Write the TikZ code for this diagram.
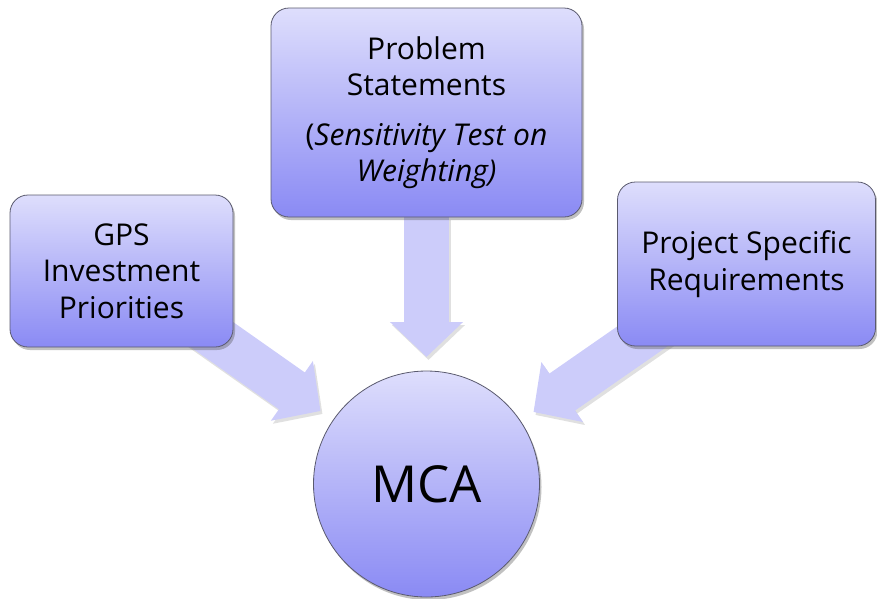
\documentclass[tikz,border=0pt]{standalone}
\usepackage{fontspec}
\setmainfont{Open Sans}
\usetikzlibrary{arrows.meta,shadows,backgrounds}
\definecolor{boxtop}{RGB}{222,222,252}
\definecolor{boxbot}{RGB}{138,138,244}
\definecolor{boxline}{RGB}{90,90,110}
\definecolor{arrowfill}{RGB}{204,204,250}
\tikzset{
  stepbox/.style={rectangle, rounded corners=18pt, draw=boxline, line width=0.8pt,
    top color=boxtop, bottom color=boxbot, align=center, inner sep=0pt,
    font=\fontsize{30}{36.5}\selectfont,
    drop shadow={shadow xshift=2pt, shadow yshift=-3pt, opacity=0.35, fill=black!70}},
  hubnode/.style={circle, draw=boxline, line width=0.8pt, minimum size=226pt,
    top color=boxtop, bottom color=boxbot, inner sep=0pt,
    font=\fontsize{51}{60}\selectfont,
    drop shadow={shadow xshift=2pt, shadow yshift=-3pt, opacity=0.35, fill=black!70}},
  bigarrow/.style={draw=arrowfill, line width=45pt,
    -{Triangle[width=71pt,length=35pt]}},
  arrowshadow/.style={draw=black, opacity=0.12, line width=45pt,
    -{Triangle[width=71pt,length=35pt]}, transform canvas={xshift=2pt,yshift=-3pt}}
}
\begin{document}
\begin{tikzpicture}[x=1pt,y=-1pt]
\useasboundingbox (0,0) rectangle (877,598);
\node[stepbox, minimum width=311pt, minimum height=209pt] (prob) at (426.5,112.5)
  {Problem\\Statements\\[13pt](\textit{Sensitivity Test on}\\\textit{Weighting)}};
\node[stepbox, minimum width=223pt, minimum height=152pt] (gps) at (121.5,271)
  {GPS\\Investment\\Priorities};
\node[stepbox, minimum width=258pt, minimum height=164pt] (req) at (746.5,264)
  {Project Specific\\Requirements};
\node[hubnode] (mca) at (426.5,484) {MCA};
\coordinate (tipT) at (426.5,357);
\coordinate (tipL) at (320.5,411);
\coordinate (tipR) at (533.5,412);
\begin{scope}[on background layer]
  \draw[arrowshadow] (prob) -- (tipT);
  \draw[arrowshadow] (gps.center) -- (tipL);
  \draw[arrowshadow] (req.center) -- (tipR);
  \draw[bigarrow] (prob) -- (tipT);
  \draw[bigarrow] (gps.center) -- (tipL);
  \draw[bigarrow] (req.center) -- (tipR);
\end{scope}
\end{tikzpicture}
\end{document}
